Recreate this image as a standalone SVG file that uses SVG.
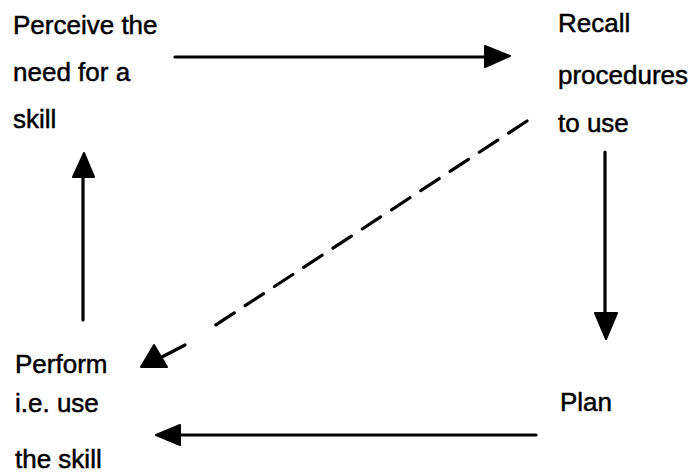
<svg xmlns="http://www.w3.org/2000/svg" width="698" height="475" viewBox="0 0 698 475">
<style>
text{font-family:"Liberation Sans",Arial,sans-serif;font-size:26px;fill:#000;stroke:#000;stroke-width:0.5}
.ln{stroke:#000;stroke-width:3.2;fill:none;stroke-linecap:round}
.dash{stroke:#000;stroke-width:3.2;fill:none;stroke-dasharray:22 13;stroke-linecap:round}
.hd{fill:#000;stroke:#000;stroke-width:2;stroke-linejoin:round}
</style>
<rect width="698" height="475" fill="#fff"/>
<g id="perceive">
<text x="13" y="34">Perceive the</text>
<text x="13" y="81">need for a</text>
<text x="13" y="128">skill</text>
</g>
<g id="recall">
<text x="558" y="32">Recall</text>
<text x="558" y="84">procedures</text>
<text x="558" y="132">to use</text>
</g>
<g id="plan">
<text x="560" y="411">Plan</text>
</g>
<g id="perform">
<text x="15" y="373">Perform</text>
<text x="15" y="412">i.e. use</text>
<text x="15" y="468">the skill</text>
</g>
<g id="connectors">
<line class="ln" x1="175" y1="57" x2="488" y2="57"/>
<polygon class="hd" points="485,46 510,56 485,67"/>
<line class="ln" x1="605" y1="152" x2="605" y2="316"/>
<polygon class="hd" points="595,313 617,313 606,339"/>
<line class="ln" x1="536" y1="435" x2="178" y2="435"/>
<polygon class="hd" points="180,425 156,435 180,445"/>
<line class="ln" x1="83" y1="320" x2="83" y2="175"/>
<polygon class="hd" points="73,177 94,177 84,153"/>
<line class="dash" x1="527" y1="121" x2="205" y2="332"/>
<line class="ln" x1="185" y1="345" x2="158" y2="359"/>
<polygon class="hd" points="154,345 141,367 167,367"/>
</g>
</svg>
